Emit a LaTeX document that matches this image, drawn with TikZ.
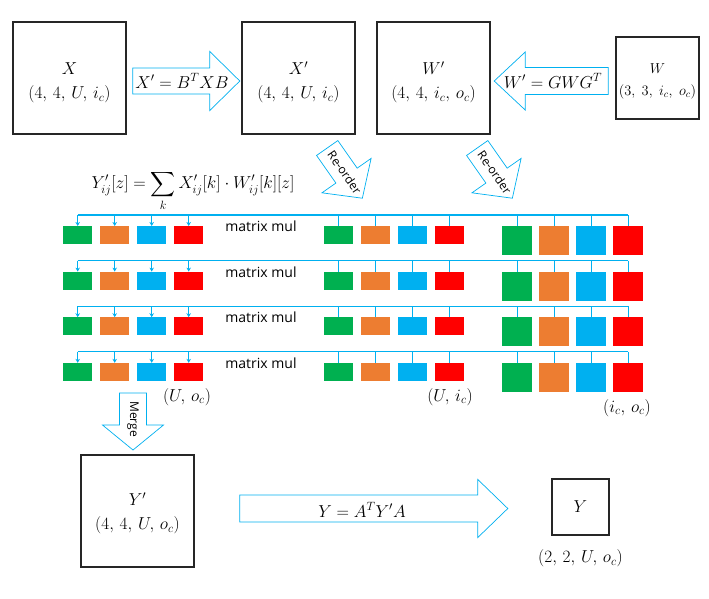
\documentclass[tikz,border=0pt]{standalone}
\usepackage{fontspec}
\usepackage{amsmath}
\usepackage{amssymb}
\usetikzlibrary{arrows.meta}
\usetikzlibrary{positioning}
\usetikzlibrary{calc}

\newfontfamily\wordfont{Open Sans}
\definecolor{cgreen}{HTML}{00B050}
\definecolor{corange}{HTML}{ED7D31}
\definecolor{cblue}{HTML}{00B0F0}
\definecolor{cred}{HTML}{FF0000}

\tikzset{
    bigbox/.style={draw=black!85, line width=1.6pt, inner sep=0pt, align=center, font=\fontsize{17.28}{24}\selectfont},
    arrowline/.style={draw=cblue, line width=0.7pt, fill=white},
    bus/.style={draw=cblue, line width=1.3pt},
    blk/.style={minimum width=29pt, minimum height=18pt, inner sep=0pt},
    bigblk/.style={minimum width=30pt, minimum height=29pt, inner sep=0pt},
    mathlbl/.style={font=\fontsize{17.28}{20}\selectfont, inner sep=0pt},
    wordlbl/.style={font=\wordfont\fontsize{14}{16}\selectfont, inner sep=0pt},
    arrowlbl/.style={font=\wordfont\fontsize{12}{14}\selectfont, inner sep=0pt}
}

% name and shape of a tensor, set a little below the middle of its box
\newcommand{\boxlines}[2]{\rule{0pt}{#1}$#2$}

% tail, angle, length, shaft half width, head half width, head length
\newcommand{\blockarrow}[6]{%
    \draw[arrowline, shift={#1}, rotate=#2]
        (0,-#4) -- ({#3-#6},-#4) -- ({#3-#6},-#5) -- (#3,0)
        -- ({#3-#6},#5) -- ({#3-#6},#4) -- (0,#4) -- cycle;}

\begin{document}
\begin{tikzpicture}[x=1pt, y=-1pt]
    \useasboundingbox (0,0) rectangle (709,598);

    % input, transformed input, transformed weight, weight
    \node[bigbox, minimum width=113pt, minimum height=112pt] (X) at (69.5,78) {\boxlines{22pt}{X}\\$(4,\,4,\,U,\,i_c)$};
    \node[bigbox, minimum width=113pt, minimum height=112pt] (Xt) at (298.5,78) {\boxlines{22pt}{X'}\\$(4,\,4,\,U,\,i_c)$};
    \node[bigbox, minimum width=113pt, minimum height=112pt] (Wt) at (433.5,78) {\boxlines{22pt}{W'}\\$(4,\,4,\,i_c,\,o_c)$};
    \node[bigbox, minimum width=83pt, minimum height=82pt, font=\fontsize{14.4}{22}\selectfont] (W) at (657.5,78) {\boxlines{17pt}{W}\\$(3,\;3,\;i_c,\;o_c)$};

    \blockarrow{($(X.east)+(6,3)$)}{0}{107}{13}{29.5}{30}
    \node[mathlbl] (xform) at (182,81) {$X'=B^TXB$};
    \blockarrow{($(W.west)+(-7,3)$)}{180}{114}{13.5}{29}{31}
    \node[mathlbl] (wform) at (553,81) {$W'=GWG^T$};

    % re-order
    \blockarrow{(327.2,148)}{-55}{61.3}{13}{30}{27.6}
    \node[arrowlbl, rotate=-55] (reorderx) at (344.7,172.4) {Re-order};
    \blockarrow{(477.2,148)}{-55}{61.3}{13}{30}{27.6}
    \node[arrowlbl, rotate=-55] (reorderw) at (494.7,172.4) {Re-order};

    \node[mathlbl] (conv) at (193,191) {$\displaystyle Y'_{ij}[z]=\sum_k X'_{ij}[k]\cdot W'_{ij}[k][z]$};

    % one matrix mul per row
    \foreach \r in {1,...,4}{
        \pgfmathsetmacro{\yb}{215+45.6*(\r-1)}
        \pgfmathsetmacro{\yt}{\yb+11}
        \foreach \cc/\col in {1/cgreen,2/corange,3/cblue,4/cred}{
            \node[blk, fill=\col, anchor=north west] (L\r\cc) at ({63+37*(\cc-1)},\yt) {};
            \node[blk, fill=\col, anchor=north west] (M\r\cc) at ({324+37*(\cc-1)},\yt) {};
            \node[bigblk, fill=\col, anchor=north west] (R\r\cc) at ({502+37*(\cc-1)},\yt) {};
        }
        \coordinate (bus\r) at (0,\yb);
        \draw[bus] (L\r1.north |- bus\r) -- (R\r4.north |- bus\r);
        \foreach \cc in {1,...,4}{
            \draw[bus, -{Stealth[length=4pt, width=4.5pt]}] (L\r\cc.north |- bus\r) -- (L\r\cc.north);
            \draw[bus] (M\r\cc.north |- bus\r) -- (M\r\cc.north);
            \draw[bus] (R\r\cc.north |- bus\r) -- (R\r\cc.north);
        }
        \node[wordlbl] (mm\r) at (261,{\yb+11.5}) {matrix mul};
    }

    \node[mathlbl] (yshape) at (187,397) {$(U,\,o_c)$};
    \node[mathlbl] (xshape) at (450,397) {$(U,\,i_c)$};
    \node[mathlbl] (wshape) at (627,408) {$(i_c,\,o_c)$};

    % merge and output transform
    \blockarrow{(133,393)}{-90}{57}{13.5}{30.5}{25}
    \node[arrowlbl, rotate=-90] (merge) at (133,419) {Merge};

    \node[bigbox, minimum width=113pt, minimum height=112pt] (Yt) at (137.5,511) {\boxlines{18pt}{Y'}\\$(4,\,4,\,U,\,o_c)$};
    \node[bigbox, minimum width=57pt, minimum height=56pt] (Y) at (580.5,507) {$Y$};
    \node[mathlbl, below=14pt of Y] (ylbl) {$(2,\,2,\,U,\,o_c)$};

    \blockarrow{($(Yt.east)+(45,-2.5)$)}{0}{268}{13.5}{29}{30}
    \node[mathlbl] (yform) at (362,510) {$Y=A^TY'A$};
\end{tikzpicture}
\end{document}
